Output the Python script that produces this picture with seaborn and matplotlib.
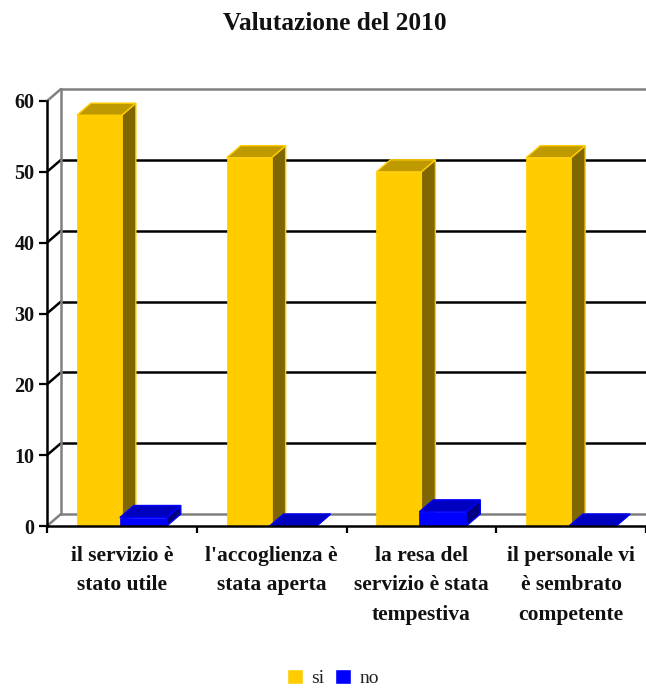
import matplotlib
matplotlib.use('Agg')
import matplotlib.pyplot as plt
import pandas as pd
import seaborn as sns
from matplotlib.lines import Line2D
from matplotlib.patches import Polygon, Patch
from matplotlib.transforms import IdentityTransform

categories = ["il servizio è\nstato utile", "l'accoglienza è\nstata aperta",
              "la resa del\nservizio è stata\ntempestiva", "il personale vi\nè sembrato\ncompetente"]
si_values = [58, 52, 50, 52]
no_values = [1.2, 0, 2, 0]
y_ticks = [0, 10, 20, 30, 40, 50, 60]

W, H = 646, 689
DX, DY = 14, 12  # depth of the fake 3d, in pixels

sns.set_theme(style='white')
plt.rcParams['font.family'] = ['Liberation Serif', 'DejaVu Serif']

df = pd.DataFrame({
    'cat': categories * 2,
    'serie': ['si'] * 4 + ['no'] * 4,
    'val': si_values + no_values,
})

fig = plt.figure(figsize=(W / 100, H / 100), dpi=100)
ax = fig.add_axes([47 / W, 1 - 526 / H, 599 / W, 425 / H])
ax.patch.set_alpha(0)

sns.barplot(data=df, x='cat', y='val', hue='serie', hue_order=['si', 'no'],
            palette={'si': '#ffcc00', 'no': '#0000ff'}, width=0.6, gap=0,
            saturation=1, legend=False, ax=ax, zorder=3)
ax.set_xlim(-0.5, 3.5)
ax.set_ylim(0, 60)

# back wall and grid go under the bars
ident = IdentityTransform()
for t in y_ticks:
    y0 = ax.transData.transform((0, t))[1]
    col = '#808080' if t in (0, 60) else 'black'
    ax.add_line(Line2D([47, 47 + DX], [y0, y0 + DY], color=col, lw=1.8, transform=ident, zorder=1, clip_on=False))
    ax.add_line(Line2D([47 + DX, W], [y0 + DY, y0 + DY], color=col, lw=1.8, transform=ident, zorder=1, clip_on=False))
ax.add_line(Line2D([47 + DX, 47 + DX], [H - 514, H - 89], color='#808080', lw=1.8, transform=ident, zorder=1, clip_on=False))

# sides and tops of each bar
shades = [('#ffcc00', '#806600', '#bf9900'), ('#0000ff', '#000080', '#0000bf')]
for k, cont in enumerate(ax.containers):
    edge, side, top = shades[k]
    for bar in cont:
        (x0, y0) = ax.transData.transform((bar.get_x(), 0))
        (x1, y1) = ax.transData.transform((bar.get_x() + bar.get_width(), bar.get_height()))
        z = 4 + k * 2
        bar.set_zorder(z + 1)
        bar.set_edgecolor(edge)
        bar.set_linewidth(0.5)
        if k == 1:
            x0 -= 2
            bar.set_x(ax.transData.inverted().transform((x0, 0))[0])
            bar.set_width(bar.get_width() + 2 / (599 / 4))
        ax.add_patch(Polygon([(x1, y0), (x1 + DX, y0 + DY), (x1 + DX, y1 + DY), (x1, y1)], closed=True,
                             facecolor=side, edgecolor=edge, lw=1, transform=ident, zorder=z, clip_on=False))
        ax.add_patch(Polygon([(x0, y1), (x0 + DX, y1 + DY), (x1 + DX, y1 + DY), (x1, y1)], closed=True,
                             facecolor=top, edgecolor=edge, lw=1, transform=ident, zorder=z, clip_on=False))

sns.despine(ax=ax)
for s in ('left', 'bottom'):
    ax.spines[s].set_color('black')
    ax.spines[s].set_linewidth(1.8)
    ax.spines[s].set_zorder(9)

ax.set_xlabel('')
ax.set_ylabel('')
ax.set_yticks(y_ticks)
ax.set_xticks([-0.5, 0.5, 1.5, 2.5, 3.5], labels=[''] * 5)
ax.set_xticks([0, 1, 2, 3], labels=categories, minor=True)
ax.tick_params(axis='y', which='major', left=True, length=6, width=1.6, color='black', pad=3,
               labelsize=14.5, labelcolor='#111111')
ax.tick_params(axis='x', which='major', bottom=True, length=5, width=1.6, color='black')
ax.tick_params(axis='x', which='minor', bottom=False, length=0, pad=14.5, labelsize=15.5, labelcolor='#111111')
for lab in ax.get_yticklabels():
    lab.set_fontweight('bold')
for lab in ax.get_xticklabels(minor=True):
    lab.set_fontweight('bold')
    lab.set_linespacing(1.62)

fig.text(335 / W, 1 - 24 / H, 'Valutazione del 2010', ha='center', va='center',
         fontsize=18.3, fontweight='bold', color='#111111')

handles = [Patch(facecolor='#ffcc00', label='si'), Patch(facecolor='#0000ff', label='no')]
fig.legend(handles=handles, loc='center', bbox_to_anchor=(333 / W, 1 - 678 / H), ncol=2, frameon=False,
           fontsize=14, handlelength=0.8, handleheight=0.8, handletextpad=0.45, columnspacing=0.55,
           borderpad=0, labelcolor='#222222')

fig.savefig('out.png', dpi=100)
